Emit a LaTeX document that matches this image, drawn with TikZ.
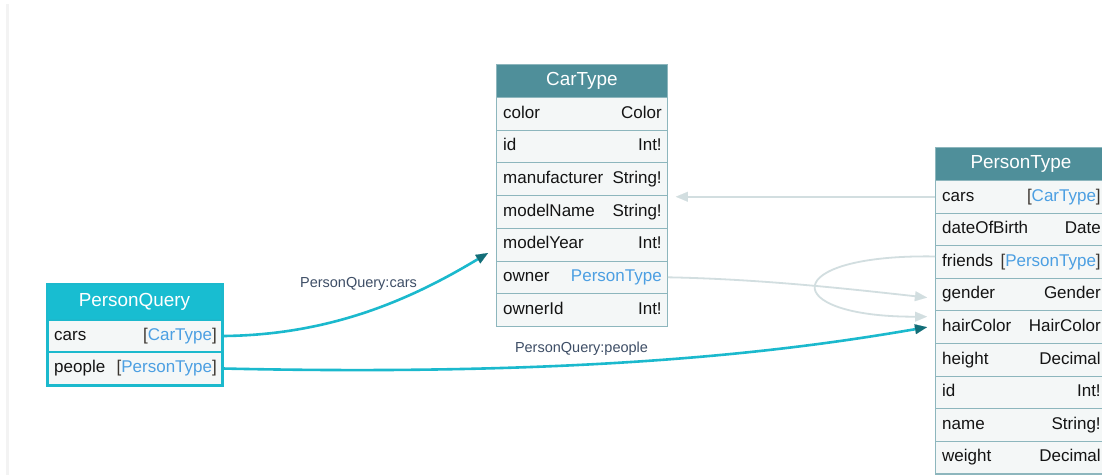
\documentclass[tikz,border=0pt]{standalone}
\usepackage{fontspec}
\setmainfont{Liberation Sans}
\usetikzlibrary{arrows.meta}

\definecolor{hdrteal}{HTML}{4F8F9A}
\definecolor{hdrcyan}{HTML}{18BDD1}
\definecolor{rowfill}{HTML}{F4F7F7}
\definecolor{rowline}{HTML}{8DB6BD}
\definecolor{linkblue}{HTML}{4C9FE2}
\definecolor{edgecyan}{HTML}{1BB9CD}
\definecolor{tipteal}{HTML}{126E78}
\definecolor{edgegray}{HTML}{D2DEE0}
\definecolor{lbltext}{HTML}{3E4E66}
\definecolor{fieldtext}{HTML}{141414}
\definecolor{brack}{HTML}{3A3530}
\definecolor{stripgray}{HTML}{F3F3F3}

\newcommand\lnk[1]{\textcolor{linkblue}{#1}}
\newcommand\lstlnk[1]{\textcolor{brack}{[}\lnk{#1}\textcolor{brack}{]}}

% one field row of a type table: style, name, x, y, width, height, field, type
\newcommand\schemarow[8]{%
  \node[rowbox,#1, minimum width=#5, minimum height=#6] (#2) at (#3,#4) {};
  \node[fieldtxt, anchor=west] (#2-name) at ([xshift=7]#2.west) {#7};
  \node[fieldtxt, anchor=east] (#2-type) at ([xshift=-6]#2.east) {#8};
}

\begin{document}
\begin{tikzpicture}[x=1pt,y=-1pt,
  rowbox/.style={rectangle, anchor=north west, draw=rowline, fill=rowfill,
    line width=0.9pt, inner sep=0pt},
  pqrow/.style={draw=edgecyan, line width=2pt},
  fieldtxt/.style={inner sep=0pt, text=fieldtext, font=\fontsize{17}{20}\selectfont,
    text height=12pt, text depth=3.5pt},
  hdrbox/.style={rectangle, anchor=north west, draw=rowline, line width=0.9pt,
    inner sep=0pt, text=white, font=\fontsize{18.9}{22}\selectfont},
  cyanedge/.style={draw=edgecyan, line width=2.6pt,
    -{Triangle[length=12pt,width=10pt,line width=0.1pt,color=tipteal]}},
  grayedge/.style={draw=edgegray, line width=1.8pt,
    -{Triangle[length=12pt,width=10pt,line width=0.1pt,color=edgegray]}},
  edgelbl/.style={inner sep=0pt, text=lbltext, font=\fontsize{14.5}{17}\selectfont}
]
\clip (0,0) rectangle (1102,475);
\fill[white] (0,0) rectangle (1102,475);
\fill[stripgray] (6,4) rectangle (9,475);

% ---- CarType ----
\node[hdrbox, fill=hdrteal, minimum width=171, minimum height=33] (ct) at (496,64) {CarType};
\schemarow{}{ct-color}{496}{97}{171}{32.7}{color}{Color}
\schemarow{}{ct-id}{496}{129.7}{171}{32.7}{id}{Int!}
\schemarow{}{ct-manufacturer}{496}{162.4}{171}{32.7}{manufacturer}{String!}
\schemarow{}{ct-modelname}{496}{195.1}{171}{32.7}{modelName}{String!}
\schemarow{}{ct-modelyear}{496}{227.8}{171}{32.7}{modelYear}{Int!}
\schemarow{}{ct-owner}{496}{260.5}{171}{32.7}{owner}{\lnk{PersonType}}
\schemarow{}{ct-ownerid}{496}{293.2}{171}{32.7}{ownerId}{Int!}
\draw[rowline, line width=1pt] (ct.north west) rectangle (ct-ownerid.south east);

% ---- PersonType ----
\node[hdrbox, fill=hdrteal, minimum width=171, minimum height=33] (pt) at (935,147) {PersonType};
\schemarow{}{pt-cars}{935}{180}{171}{32.6}{cars}{\lstlnk{CarType}}
\schemarow{}{pt-dateofbirth}{935}{212.6}{171}{32.6}{dateOfBirth}{Date}
\schemarow{}{pt-friends}{935}{245.2}{171}{32.6}{friends}{\lstlnk{PersonType}}
\schemarow{}{pt-gender}{935}{277.8}{171}{32.6}{gender}{Gender}
\schemarow{}{pt-haircolor}{935}{310.4}{171}{32.6}{hairColor}{HairColor}
\schemarow{}{pt-height}{935}{343}{171}{32.6}{height}{Decimal}
\schemarow{}{pt-id}{935}{375.6}{171}{32.6}{id}{Int!}
\schemarow{}{pt-name}{935}{408.2}{171}{32.6}{name}{String!}
\schemarow{}{pt-weight}{935}{440.8}{171}{32.6}{weight}{Decimal}
\draw[rowline, line width=1pt] (pt.north west) rectangle (pt-weight.south east);

% ---- PersonQuery ----
\node[hdrbox, draw=edgecyan, fill=hdrcyan, minimum width=174, minimum height=35] (pq) at (47,284) {PersonQuery};
\schemarow{pqrow}{pq-cars}{47}{319}{174}{32}{cars}{\lstlnk{CarType}}
\schemarow{pqrow}{pq-people}{47}{351}{174}{33}{people}{\lstlnk{PersonType}}
\draw[edgecyan, line width=2.5pt] (pq.north west) rectangle (pq-people.south east);

% ---- connector end points ----
\coordinate (cars-in) at (488,253);
\coordinate (ct-right) at ([xshift=8]ct-manufacturer.east);
\coordinate (owner-in) at ([xshift=-8,yshift=-3]pt-gender.west);
\coordinate (friends-out) at ([yshift=5.5]pt-friends.west);
\coordinate (friends-in) at ([xshift=-8,yshift=10.5]pt-haircolor.west);
\coordinate (people-in) at ([xshift=-8]pt-haircolor.west);

% ---- references between types ----
\draw[grayedge] (pt-cars.west) -- (ct-right |- pt-cars.west);
\draw[grayedge] (ct-owner.east) .. controls (760,279) and (850,289) .. (owner-in);
\draw[grayedge] (friends-out) .. controls (778,254) and (778,317) .. (friends-in);

% ---- query entry points ----
\draw[cyanedge] (pq-cars.east) .. controls (330,335) and (410,300) .. (cars-in);
\draw[cyanedge] (pq-people.east) .. controls (600,377) and (800,349) .. (people-in);

\node[edgelbl] (lbl-pq-cars) at (358.5,284) {PersonQuery:cars};
\node[edgelbl] (lbl-pq-people) at (581.5,349) {PersonQuery:people};
\end{tikzpicture}
\end{document}
